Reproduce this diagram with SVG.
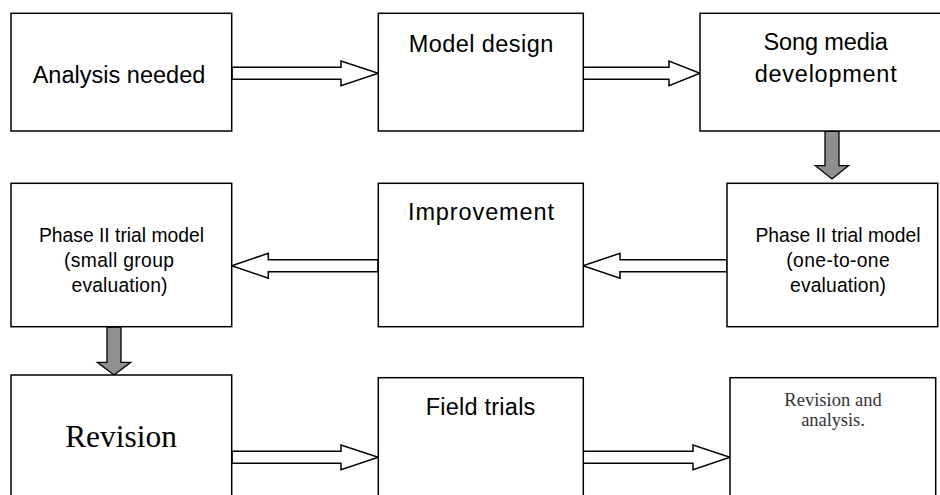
<svg xmlns="http://www.w3.org/2000/svg" width="940" height="495" viewBox="0 0 940 495">
<style>
.box{fill:#fff;stroke:#000;stroke-width:1.5}
.oa{fill:#fff;stroke:#000;stroke-width:1.5;stroke-linejoin:miter}
.ga{fill:#8f8f8f;stroke:#000;stroke-width:1.3}
.t{font-family:"Liberation Sans",Arial,sans-serif;font-size:23.5px;fill:#000;text-anchor:middle}
.s{font-family:"Liberation Sans",Arial,sans-serif;font-size:19.3px;fill:#000;text-anchor:middle}
.r{font-family:"Liberation Serif","Times New Roman",serif;fill:#000;text-anchor:middle}
</style>
<rect width="940" height="495" fill="#fff"/>
<g id="connectors">
<polygon class="oa" points="232,67.3 341,67.3 341,61 378.3,73.3 341,85.6 341,79.3 232,79.3"/>
<polygon class="oa" points="583,67.3 669,67.3 669,61 700,73.3 669,85.6 669,79.3 583,79.3"/>
<polygon class="oa" points="727,259.7 620,259.7 620,253.3 583,265.7 620,278.1 620,271.7 727,271.7"/>
<polygon class="oa" points="378,259.7 268.3,259.7 268.3,253.3 231.7,265.7 268.3,278.1 268.3,271.7 378,271.7"/>
<polygon class="oa" points="232,451.3 341,451.3 341,445 378.3,457.3 341,469.6 341,463.3 232,463.3"/>
<polygon class="oa" points="583,451.3 693,451.3 693,445 730,457.3 693,469.6 693,463.3 583,463.3"/>
<polygon class="ga" points="825,131 839,131 839,165.7 848.5,165.7 832,179 815.3,165.7 825,165.7"/>
<polygon class="ga" points="107,327 121,327 121,362.3 130.7,362.3 114,375 97.3,362.3 107,362.3"/>
</g>
<g id="analysis-needed">
<rect class="box" x="11" y="13.3" width="220.7" height="117.7"/>
<text class="t" x="119" y="82.7" textLength="172.7">Analysis needed</text>
</g>
<g id="model-design">
<rect class="box" x="378.3" y="13.3" width="205" height="117.7"/>
<text class="t" x="481" y="51.5" textLength="144.6">Model design</text>
</g>
<g id="song-media">
<rect class="box" x="700" y="13.3" width="260" height="117.7"/>
<text class="t" x="825.7" y="50" textLength="124.4">Song media</text>
<text class="t" x="825.7" y="81.7" textLength="142">development</text>
</g>
<g id="phase2-one-to-one">
<rect class="box" x="727" y="183.3" width="210.7" height="143.4"/>
<text class="s" x="838" y="241.7" textLength="165">Phase II trial model</text>
<text class="s" x="838" y="267" textLength="103.4">(one-to-one</text>
<text class="s" x="838" y="291.7" textLength="96">evaluation)</text>
</g>
<g id="improvement">
<rect class="box" x="378.3" y="183.3" width="205" height="143.4"/>
<text class="t" x="481" y="220" textLength="146">Improvement</text>
</g>
<g id="phase2-small-group">
<rect class="box" x="11" y="183.3" width="220.7" height="143.4"/>
<text class="s" x="121.5" y="242" textLength="165">Phase II trial model</text>
<text class="s" x="119" y="267.3" textLength="110">(small group</text>
<text class="s" x="119.5" y="292" textLength="96">evaluation)</text>
</g>
<g id="revision">
<rect class="box" x="11" y="375" width="220.7" height="130"/>
<text class="r" x="121" y="447.3" font-size="31.4" textLength="111.7">Revision</text>
</g>
<g id="field-trials">
<rect class="box" x="378.3" y="377.7" width="205" height="130"/>
<text class="t" x="480.5" y="414.5" textLength="109.7">Field trials</text>
</g>
<g id="revision-analysis">
<rect class="box" x="730" y="377.7" width="205.7" height="130"/>
<text class="r" x="833" y="405.7" font-size="18.5" fill="#333" style="fill:#333" textLength="97.3">Revision and</text>
<text class="r" x="833" y="426" font-size="18.5" style="fill:#333" textLength="63.6">analysis.</text>
</g>
</svg>
